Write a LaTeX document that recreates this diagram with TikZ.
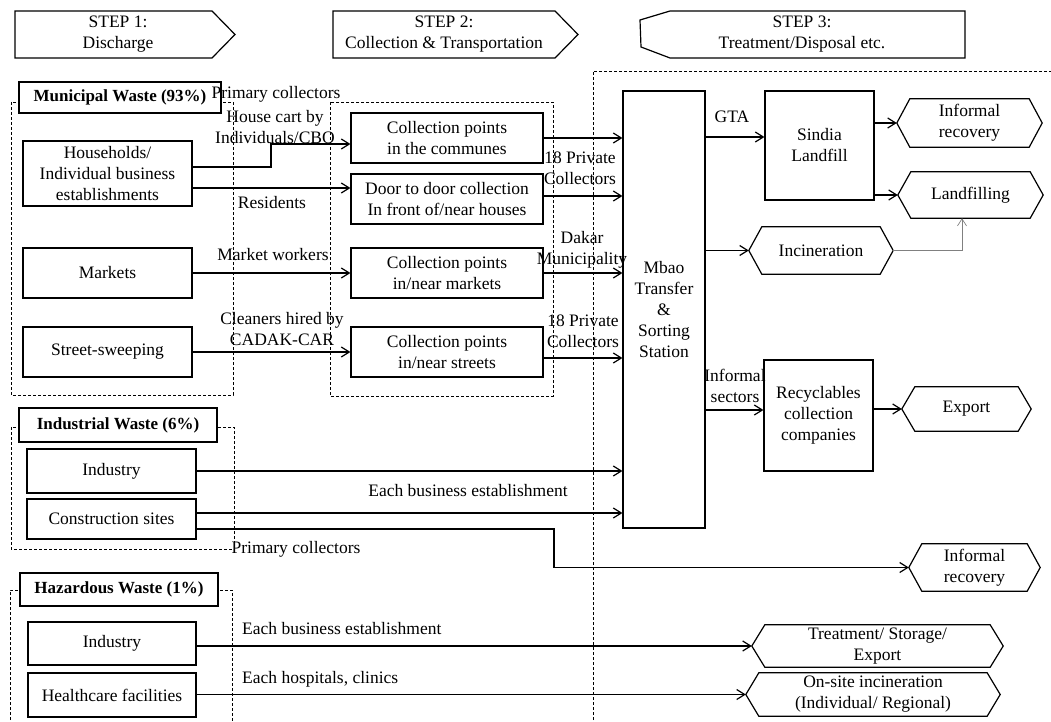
\documentclass[tikz,border=0pt]{standalone}
\usepackage{fontspec}
\setmainfont{Liberation Serif}
\usetikzlibrary{arrows.meta}
\begin{document}
\begin{tikzpicture}[x=1pt,y=-1pt,
  every node/.style={font=\fontsize{17.5}{21}\selectfont, inner sep=0pt, align=center},
  bx/.style={draw, line width=1.2pt, fill=white},
  bold/.style={font=\fontsize{17}{21}\selectfont\bfseries},
  hx/.style={draw=none},
  frame/.style={line width=1.2pt},
  dsh/.style={line width=0.9pt, dash pattern=on 3pt off 2pt},
  arr/.style={line width=1.2pt, -{Straight Barb[length=8pt,width=10pt]}},
  garr/.style={line width=0.7pt, gray, -{Straight Barb[length=7pt,width=9pt]}}
]
\useasboundingbox (0,0) rectangle (1051,722);

% ---- dashed groups ----
\draw[dsh] (11,102) rectangle (233,395);
\draw[dsh] (330,102) rectangle (553,396);
\draw[dsh] (11,427) rectangle (234,549);
\draw[dsh] (10,730) -- (10,590) -- (232,590) -- (232,730);
\draw[dsh] (593,730) -- (593,71) -- (1060,71);

% ---- step headers ----
\draw[frame] (15,11) -- (212,11) -- (235,34.5) -- (212,58) -- (15,58) -- cycle;
\node (s1) at (118,34.5) {STEP 1:\\Discharge};
\draw[frame] (333,11) -- (555,11) -- (578,34.5) -- (555,58) -- (333,58) -- cycle;
\node (s2) at (444,34.5) {STEP 2:\\Collection \& Transportation};
\draw[frame] (670,11) -- (965,11) -- (965,58) -- (670,58) -- (641,47) -- (640,20) -- cycle;
\node (s3) at (802,34.5) {STEP 3:\\Treatment/Disposal etc.};

% ---- group labels ----
\node[bx, bold, minimum width=202pt, minimum height=31pt] (mw) at (120,97.5) {Municipal Waste (93\%)};
\node[bx, bold, minimum width=198pt, minimum height=34pt] (iw) at (118,425) {Industrial Waste (6\%)};
\node[bx, bold, minimum width=198pt, minimum height=33pt] (hw) at (119,589.5) {Hazardous Waste (1\%)};

% ---- step 1 sources ----
\node[bx, minimum width=169pt, minimum height=65pt] (hh) at (107.5,173.5) {Households/\\Individual business\\establishments};
\node[bx, minimum width=169pt, minimum height=50pt] (mk) at (107.5,273) {Markets};
\node[bx, minimum width=169pt, minimum height=50pt] (ss) at (107.5,352) {Street-sweeping};
\node[bx, minimum width=169pt, minimum height=44pt] (ind) at (111.5,471) {Industry};
\node[bx, minimum width=169pt, minimum height=40pt] (cs) at (111.5,519) {Construction sites};
\node[bx, minimum width=168pt, minimum height=43pt] (hind) at (112,643.5) {Industry};
\node[bx, minimum width=168pt, minimum height=44pt] (hc) at (112,695) {Healthcare facilities};

% ---- step 2 collection ----
\node[bx, minimum width=192pt, minimum height=50pt] (cpc) at (447,138) {Collection points\\in the communes};
\node[bx, minimum width=192pt, minimum height=50pt] (d2d) at (447,199) {Door to door collection\\In front of/near houses};
\node[bx, minimum width=192pt, minimum height=50pt] (cpm) at (447,273) {Collection points\\in/near markets};
\node[bx, minimum width=192pt, minimum height=50pt] (cps) at (447,352) {Collection points\\in/near streets};

% ---- step 3 ----
\node[bx, minimum width=82pt, minimum height=437pt] (mbao) at (664,309.5) {Mbao\\Transfer\\\&\\Sorting\\Station};
\node[bx, minimum width=109pt, minimum height=109pt] (sin) at (819.5,145.5) {Sindia\\Landfill};
\node[bx, minimum width=109pt, minimum height=111pt] (rec) at (818.5,415.5) {Recyclables\\collection\\companies};

\node[hx, minimum width=145pt, minimum height=48pt] (ir1) at (969.5,123) {Informal\\recovery};
\node[hx, minimum width=145pt, minimum height=46pt] (lf) at (970.5,195) {Landfilling};
\node[hx, minimum width=144pt, minimum height=47pt] (inc) at (821,250.5) {Incineration};
\node[hx, minimum width=129pt, minimum height=44pt] (exp) at (966.5,409) {Export};
\node[hx, minimum width=131pt, minimum height=47pt] (ir2) at (974.5,567.5) {Informal\\recovery};
\node[hx, minimum width=251pt, minimum height=42pt] (trt) at (877.5,646) {Treatment/ Storage/\\Export};
\node[hx, minimum width=254pt, minimum height=43pt] (ons) at (873,694.5) {On-site incineration\\(Individual/ Regional)};
\foreach \n in {ir1,lf,inc,exp,ir2,trt,ons}
  \draw[frame] (\n.west) -- ([xshift=13pt]\n.north west) -- ([xshift=-13pt]\n.north east) -- (\n.east) -- ([xshift=-13pt]\n.south east) -- ([xshift=13pt]\n.south west) -- cycle;

% ---- helper coordinates ----
\coordinate (y144) at (0,144);
\coordinate (y167) at (0,167);
\coordinate (y188) at (0,188);
\coordinate (y196) at (0,196);
\coordinate (y358) at (0,358);
\coordinate (y513) at (0,513);
\coordinate (y137) at (0,137);
\coordinate (y410) at (0,410);
\coordinate (c271) at (271,167);
\coordinate (c554) at (554,529);

% ---- connectors ----
\draw[arr] (hh.east |- y167) -- (c271) |- (cpc.west |- y144);
\draw[arr] (hh.east |- y188) -- (d2d.west |- y188);
\draw[arr] (mk.east) -- (cpm.west);
\draw[arr] (ss.east) -- (cps.west);
\draw[arr] (cpc.east) -- (mbao.west |- cpc.east);
\draw[arr] (d2d.east |- y196) -- (mbao.west |- y196);
\draw[arr] (cpm.east) -- (mbao.west |- cpm.east);
\draw[arr] (cps.east |- y358) -- (mbao.west |- y358);
\draw[arr] (ind.east) -- (mbao.west |- ind.east);
\draw[arr] (cs.east |- y513) -- (mbao.west |- y513);
\draw[arr] (cs.east |- c554) -- (c554) |- (ir2.west);
\draw[arr] (mbao.east |- y137) -- (sin.west |- y137);
\draw[arr] (sin.east |- ir1.west) -- (ir1.west);
\draw[arr] (sin.east |- lf.west) -- (lf.west);
\draw[arr] (mbao.east |- inc.west) -- (inc.west);
\draw[garr] (inc.east) -| ([xshift=-8.5pt]lf.south);
\draw[arr] (mbao.east |- y410) -- (rec.west |- y410);
\draw[arr] (rec.east |- exp.west) -- (exp.west);
\draw[arr] (hind.east |- trt.west) -- (trt.west);
\draw[arr] (hc.east |- ons.west) -- (ons.west);

% ---- connector labels ----
\node (l1) at (276,94) {Primary collectors};
\node (l2) at (275,127) {House cart by\\Individuals/CBO};
\node (l3) at (272,203) {Residents};
\node (l4) at (273,255) {Market workers};
\node (l5) at (282,329) {Cleaners hired by\\CADAK-CAR};
\node (l6) at (580,168) {18 Private\\Collectors};
\node (l7) at (582,250) {Dakar\\Municipality};
\node (l8) at (583,331) {18 Private\\Collectors};
\node (l9) at (732,117) {GTA};
\node (l10) at (735,386) {Informal\\sectors};
\node (l11) at (468,491) {Each business establishment};
\node (l12) at (296,549) {Primary collectors};
\node[anchor=west] (l13) at (242,629) {Each business establishment};
\node[anchor=west] (l14) at (242,679) {Each hospitals, clinics};
\end{tikzpicture}
\end{document}
